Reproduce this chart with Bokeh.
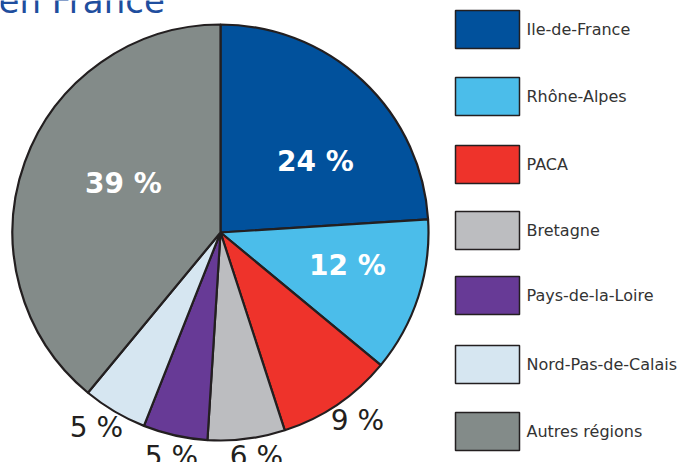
import numpy as np
from bokeh.plotting import figure
from bokeh.models import Range1d, ColumnDataSource
from bokeh.core.properties import value
from bokeh.embed import file_html
from bokeh.resources import INLINE

# ---- data ----
regions = ["Ile-de-France", "Rhône-Alpes", "PACA", "Bretagne",
           "Pays-de-la-Loire", "Nord-Pas-de-Calais", "Autres régions"]
shares = [24, 12, 9, 6, 5, 5, 39]
share_labels = ["24 %", "12 %", "9 %", "6 %", "5 %", "5 %", "39 %"]
colors = ["#01519c", "#4bbdea", "#ee332b", "#bcbdc0", "#673a96", "#d6e6f1", "#838b89"]
title_text = "en France"

# ---- geometry (data units == pixels, y up) ----
W, H = 683, 462
def sy(y):  # picture y -> data y
    return 462 - y

p = figure(width=W, height=H, output_backend="svg", toolbar_location=None,
           x_range=Range1d(0, W), y_range=Range1d(462 - H, 462),
           min_border=0)
p.axis.visible = False
p.grid.visible = False
p.outline_line_color = None
p.background_fill_color = "white"
p.border_fill_color = "white"

cx, cy, r = 220, sy(232), 208
frac = np.array(shares, dtype=float) / sum(shares)
cum = np.concatenate([[0], np.cumsum(frac)])
start = np.pi / 2 - 2 * np.pi * cum[:-1]
end = np.pi / 2 - 2 * np.pi * cum[1:]
src = ColumnDataSource(dict(start=start, end=end, color=colors))
p.wedge(x=cx, y=cy, radius=r, start_angle="start", end_angle="end",
        direction="clock", fill_color="color", line_color="#231f20",
        line_width=2.2, source=src)

# inside labels (bold white)
in_idx = [0, 1, 6]
in_pos = [(315, 161), (347, 265), (123, 183)]
p.text(x=[q[0] for q in in_pos], y=[sy(q[1]) for q in in_pos],
       text=[share_labels[i] for i in in_idx], text_color="white",
       text_font=value("DejaVu Sans"), text_font_style="bold",
       text_font_size="28px", text_align="center", text_baseline="middle")

# outside labels
out_idx = [2, 3, 4, 5]
out_pos = [(357, 420), (256, 456), (171, 456), (96, 427)]
p.text(x=[q[0] for q in out_pos], y=[sy(q[1]) for q in out_pos],
       text=[share_labels[i] for i in out_idx], text_color="#231f20",
       text_font=value("DejaVu Sans"), text_font_size="28px",
       text_align="center", text_baseline="middle")

# legend
box_y = [29, 96, 164, 230, 295, 364, 431]
p.rect(x=[487] * 7, y=[sy(v) for v in box_y], width=64, height=38,
       fill_color=colors, line_color="#231f20", line_width=1.5)
p.text(x=[526] * 7, y=[sy(v) for v in box_y], text=regions,
       text_color="#333333", text_font=value("DejaVu Sans"),
       text_font_size="16px", text_align="left", text_baseline="middle")

# title (cut off at top)
p.text(x=[-2], y=[sy(0)], text=[title_text], text_color="#1f4e9e",
       text_font=value("DejaVu Sans"), text_font_size="34px",
       text_align="left", text_baseline="alphabetic")

open("out.html", "w").write(file_html(p, INLINE))
